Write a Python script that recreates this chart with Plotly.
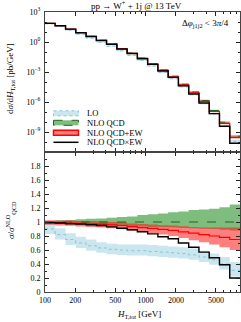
import plotly.graph_objects as go
from plotly.subplots import make_subplots

# ---------------- data ----------------
ht_edges = [100, 126, 160, 202, 256, 324, 409, 518, 655, 828, 1047, 1324,
            1675, 2118, 2679, 3388, 4285, 5420, 6855, 8670]

nlo_qcd = [74, 43, 20, 8.7, 3.7, 1.5, 0.63, 0.22, 0.079, 0.025, 6.9e-3, 1.6e-3,
           3.8e-4, 6.0e-5, 1.0e-5, 1.4e-6, 1.4e-7, 9.5e-9, 3.8e-10]

# ratios to NLO QCD
lo_c = [0.90, 0.82, 0.75, 0.70, 0.66, 0.63, 0.61, 0.60, 0.59, 0.59, 0.58, 0.57,
        0.56, 0.55, 0.53, 0.50, 0.46, 0.40, 0.31]
lo_up = [0.97, 0.91, 0.84, 0.79, 0.75, 0.71, 0.69, 0.68, 0.68, 0.68, 0.67, 0.66,
         0.65, 0.64, 0.62, 0.59, 0.55, 0.50, 0.43]
lo_dn = [0.83, 0.75, 0.67, 0.63, 0.59, 0.56, 0.54, 0.53, 0.52, 0.52, 0.51, 0.50,
         0.49, 0.48, 0.46, 0.43, 0.39, 0.32, 0.22]

qcd_c = [1.0] * 19
qcd_up = [1.015, 1.025, 1.03, 1.04, 1.045, 1.05, 1.06, 1.07, 1.08, 1.10, 1.11,
          1.12, 1.14, 1.15, 1.17, 1.18, 1.19, 1.21, 1.25]
qcd_dn = [0.98, 0.975, 0.97, 0.965, 0.96, 0.955, 0.95, 0.945, 0.94, 0.935, 0.93,
          0.925, 0.92, 0.915, 0.91, 0.905, 0.90, 0.89, 0.88]

add_c = [0.995, 0.99, 0.985, 0.98, 0.975, 0.97, 0.96, 0.95, 0.935, 0.92, 0.91,
         0.895, 0.88, 0.86, 0.84, 0.82, 0.80, 0.78, 0.75]
add_up = [1.025, 1.02, 1.02, 1.015, 1.015, 1.01, 1.0, 0.995, 0.98, 0.97, 0.965,
          0.955, 0.95, 0.94, 0.93, 0.92, 0.92, 0.92, 0.92]
add_dn = [0.96, 0.95, 0.945, 0.935, 0.93, 0.92, 0.91, 0.895, 0.875, 0.86, 0.84,
          0.82, 0.80, 0.77, 0.74, 0.71, 0.68, 0.64, 0.60]

mult_c = [0.99, 0.985, 0.975, 0.97, 0.96, 0.95, 0.93, 0.91, 0.89, 0.86, 0.83,
          0.79, 0.76, 0.70, 0.64, 0.57, 0.49, 0.39, 0.20]

legend_labels = ["LO", "NLO QCD", "NLO QCD+EW", "NLO QCD×EW"]
x_ticks = [100, 200, 500, 1000, 2000, 5000]
x_minor = [300, 400, 600, 700, 800, 900, 3000, 4000, 6000, 7000, 8000]

# ---------------- styles ----------------
FONT = "Liberation Serif"
LO_FILL = "rgba(173,216,230,0.65)"
LO_LINE = "rgb(135,195,220)"
QCD_FILL = "rgba(20,135,20,0.55)"
QCD_LINE = "rgb(30,100,30)"
ADD_FILL = "rgba(255,20,20,0.55)"
ADD_LINE = "rgb(255,0,0)"

W, H = 241, 322
L, R, T, B = 45, 1, 12, 30
PW, PH = W - L - R, H - T - B


def px(x):
    return (x - L) / PW


def py(y):
    return (H - B - y) / PH


def stepy(vals):
    return list(vals) + [vals[-1]]


fig = make_subplots(rows=2, cols=1, shared_xaxes=True, vertical_spacing=0)

bands = [
    (lo_dn, lo_up, LO_FILL),
    (qcd_dn, qcd_up, QCD_FILL),
    (add_dn, add_up, ADD_FILL),
]
centres = [
    (lo_c, dict(color=LO_LINE, width=1, dash="dot")),
    (qcd_c, dict(color=QCD_LINE, width=1, dash="dash")),
    (add_c, dict(color=ADD_LINE, width=1.2)),
    (mult_c, dict(color="black", width=1.4)),
]

for row in (1, 2):
    scale = nlo_qcd if row == 1 else [1.0] * len(nlo_qcd)
    for dn, up, fill in bands:
        fig.add_trace(go.Scatter(x=ht_edges, y=stepy([a * s for a, s in zip(dn, scale)]),
                                 mode="lines", line=dict(width=0, shape="hv"),
                                 showlegend=False, hoverinfo="skip"), row=row, col=1)
        fig.add_trace(go.Scatter(x=ht_edges, y=stepy([a * s for a, s in zip(up, scale)]),
                                 mode="lines", line=dict(width=0, shape="hv"),
                                 fill="tonexty", fillcolor=fill,
                                 showlegend=False, hoverinfo="skip"), row=row, col=1)
    for c, ln in centres:
        ln = dict(ln, shape="hv")
        fig.add_trace(go.Scatter(x=ht_edges, y=stepy([a * s for a, s in zip(c, scale)]),
                                 mode="lines", line=ln, showlegend=False,
                                 hoverinfo="skip"), row=row, col=1)

axis_common = dict(showline=True, linecolor="#444", linewidth=1, mirror="allticks",
                   ticks="inside", tickcolor="#222", tickwidth=1, showgrid=False,
                   zeroline=False, tickfont=dict(family=FONT, size=8, color="black"))

xr = [2, 3.938]
fig.update_xaxes(type="log", range=xr, tickvals=x_ticks, ticklen=4,
                 minor=dict(tickvals=x_minor, ticklen=2, ticks="inside",
                            tickcolor="#222"),
                 **axis_common)
fig.update_xaxes(showticklabels=False, row=1, col=1)
fig.update_xaxes(ticktext=[str(v) for v in x_ticks], row=2, col=1)

fig.update_yaxes(type="log", range=[-11, 3], domain=[0.5, 1], row=1, col=1,
                 tickvals=[1e3, 1, 1e-3, 1e-6, 1e-9],
                 ticktext=["10<sup>3</sup>", "10<sup>0</sup>", "10<sup>−3</sup>",
                           "10<sup>−6</sup>", "10<sup>−9</sup>"],
                 ticklen=4, ticklabelstandoff=2,
                 minor=dict(tickvals=[10.0 ** k for k in range(-11, 4)], ticklen=2,
                            ticks="inside", tickcolor="#222"),
                 **axis_common)
fig.update_yaxes(range=[0, 2], domain=[0, 0.5], row=2, col=1,
                 tickvals=[0, 0.2, 0.4, 0.6, 0.8, 1, 1.2, 1.4, 1.6, 1.8],
                 ticktext=["0", "0.2", "0.4", "0.6", "0.8", "1", "1.2", "1.4", "1.6", "1.8"],
                 ticklen=4, ticklabelstandoff=2,
                 minor=dict(dtick=0.1, ticklen=2, ticks="inside", tickcolor="#222"),
                 **axis_common)

ann = []
tf = dict(family=FONT, size=9, color="black")
ann.append(dict(x=px(136), y=py(5), xref="paper", yref="paper", showarrow=False,
                text="pp → W<sup>+</sup> + 1j @ 13 TeV", font=tf,
                xanchor="center", yanchor="middle"))
ann.append(dict(x=px(231), y=py(23.5), xref="paper", yref="paper", showarrow=False,
                text="Δ<i>φ</i><sub>j1j2</sub> < 3<i>π</i>/4", font=tf,
                xanchor="right", yanchor="middle"))
ann.append(dict(x=px(10), y=py(79), xref="paper", yref="paper", showarrow=False,
                text="d<i>σ</i>/d<i>H</i><sub>T,tot</sub> [pb/GeV]", font=tf,
                textangle=-90, xanchor="center", yanchor="middle"))
ann.append(dict(x=px(10), y=py(220), xref="paper", yref="paper", showarrow=False,
                text="<i>σ</i>/<i>σ</i><sup>NLO</sup><sub>QCD</sub>", font=tf,
                textangle=-90, xanchor="center", yanchor="middle"))
ann.append(dict(x=px(139), y=py(314), xref="paper", yref="paper", showarrow=False,
                text="<i>H</i><sub>T,tot</sub> [GeV]", font=tf,
                xanchor="center", yanchor="middle"))

# legend drawn by hand (compact rows as in the reference)
rows_y = [113.3, 122.8, 132.8, 142.3]
shapes = []
leg_styles = [
    dict(fillcolor=LO_FILL, line=dict(color=LO_LINE, width=1, dash="dot")),
    dict(fillcolor=QCD_FILL, line=dict(color=QCD_LINE, width=1, dash="dash")),
    dict(fillcolor=ADD_FILL, line=dict(color=ADD_LINE, width=1.5)),
]
for i, st in enumerate(leg_styles):
    shapes.append(dict(type="rect", xref="paper", yref="paper",
                       x0=px(53.5), x1=px(78.5), y0=py(rows_y[i] - 2.5),
                       y1=py(rows_y[i] + 2.5), layer="above", **st))
shapes.append(dict(type="line", xref="paper", yref="paper", x0=px(53.5), x1=px(78.5),
                   y0=py(rows_y[3]), y1=py(rows_y[3]),
                   line=dict(color="black", width=1.5), layer="above"))
for lab, yy in zip(legend_labels, rows_y):
    ann.append(dict(x=px(85), y=py(yy), xref="paper", yref="paper", showarrow=False,
                    text=lab, font=dict(family=FONT, size=8.5, color="black"),
                    xanchor="left", yanchor="middle"))

fig.update_layout(width=W, height=H, margin=dict(l=L, r=R, t=T, b=B),
                  plot_bgcolor="white", paper_bgcolor="white",
                  annotations=ann, shapes=shapes, showlegend=False)

fig.write_html("out.html", config={"displayModeBar": False, "staticPlot": True},
               post_script="document.body.style.margin='0';"
                           "document.body.style.overflow='hidden';")
